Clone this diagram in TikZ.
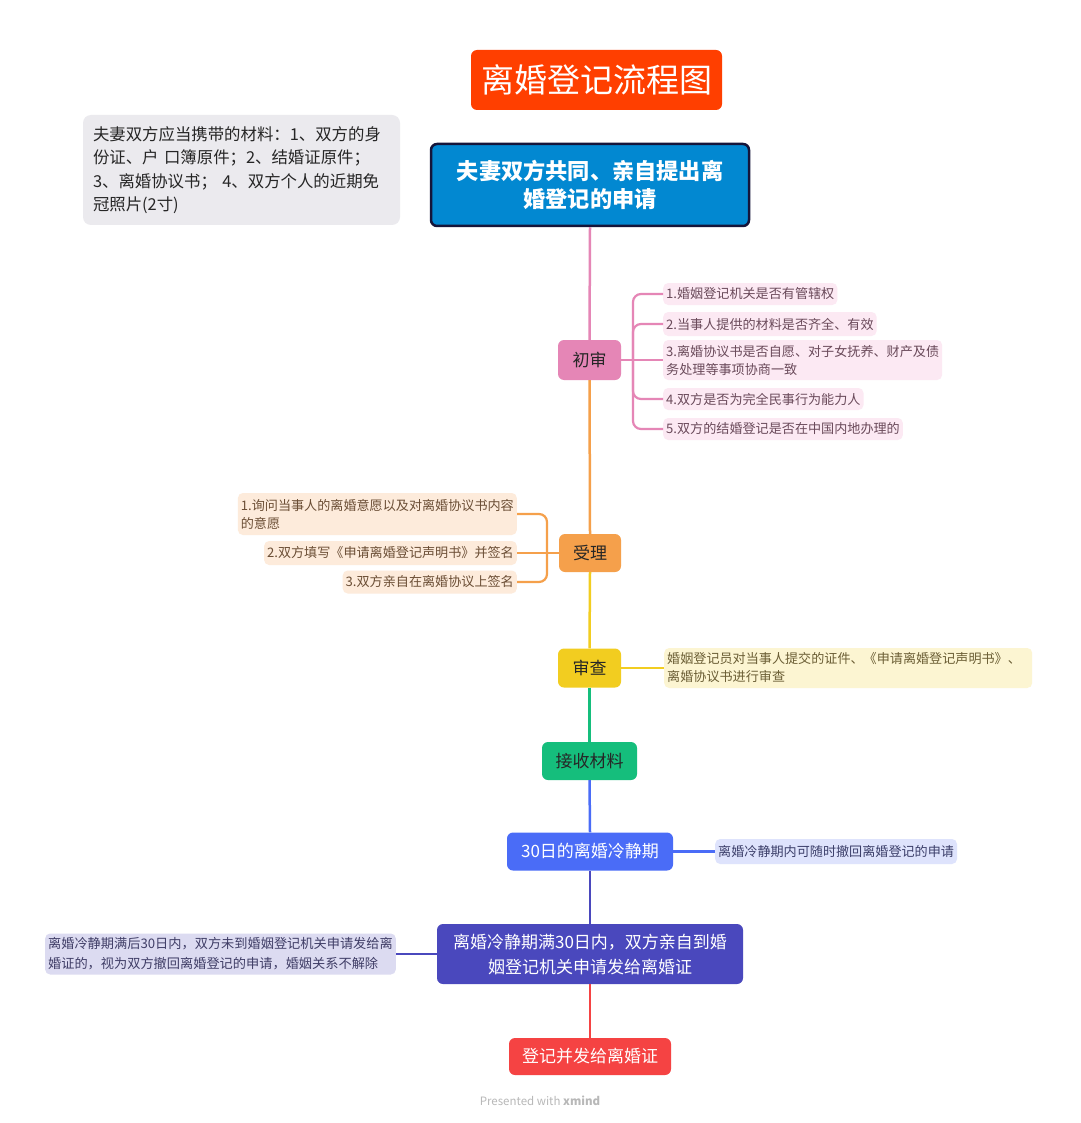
\documentclass[tikz,border=0pt]{standalone}
\usepackage{fontspec}
\setmainfont{Noto Sans CJK SC}
\definecolor{titlec}{HTML}{FF3F00}
\definecolor{rootc}{HTML}{0288D1}
\definecolor{rootb}{HTML}{15153A}
\definecolor{notec}{HTML}{EBEAEE}
\definecolor{pinkc}{HTML}{E586B6}
\definecolor{pinkl}{HTML}{FCE9F3}
\definecolor{pinkt}{HTML}{6A4A5A}
\definecolor{orc}{HTML}{F5A04B}
\definecolor{orl}{HTML}{FDEBDB}
\definecolor{ort}{HTML}{6B4E35}
\definecolor{yec}{HTML}{F2CD20}
\definecolor{yel}{HTML}{FCF5D2}
\definecolor{yet}{HTML}{6B5E35}
\definecolor{grc}{HTML}{15BE7C}
\definecolor{blc}{HTML}{4A6CF7}
\definecolor{bll}{HTML}{DEE3FC}
\definecolor{blt}{HTML}{3C3F6A}
\definecolor{inc}{HTML}{4A48BD}
\definecolor{inl}{HTML}{DCDBF1}
\definecolor{int}{HTML}{3F3D66}
\definecolor{rdc}{HTML}{F54343}
\begin{document}
\begin{tikzpicture}[x=1pt,y=-1pt,
  stepbox/.style={rounded corners=6pt, inner sep=0pt, align=center, font=\fontsize{17}{22}\selectfont},
  leaf/.style={rounded corners=5pt, inner xsep=3pt, inner ysep=0pt, align=left, font=\fontsize{13.1}{18}\selectfont},
  link/.style={line width=2.5pt},
]
\useasboundingbox (0,0) rectangle (1080,1123);
\fill[white] (0,0) rectangle (1080,1123);

% title
\node[stepbox, fill=titlec, text=white, minimum width=251pt, minimum height=60pt, font=\fontsize{33}{38}\selectfont] (title) at (596.5,80) {离婚登记流程图};

% materials note
\node[rounded corners=8pt, fill=notec, text=black!85, text width=297pt, inner xsep=10pt, inner ysep=0pt, minimum height=110pt, align=left, font=\fontsize{16.4}{23.5}\selectfont] (mat) at (241.5,170) {夫妻双方应当携带的材料：1、双方的身\\份证、户 口簿原件；2、结婚证原件；\\3、离婚协议书； 4、双方个人的近期免\\冠照片(2寸)};

% root
\node[stepbox, fill=rootc, draw=rootb, line width=2.5pt, text=white, minimum width=318pt, minimum height=82pt, font=\fontsize{22.2}{28}\selectfont\bfseries] (root) at (590,185) {夫妻双方共同、亲自提出离\\婚登记的申请};

% main steps
\node[stepbox, fill=pinkc, text=black!85, minimum width=63pt, minimum height=40pt] (cs) at (589.5,360) {初审};
\node[stepbox, fill=orc, text=black!85, minimum width=62pt, minimum height=38pt] (sl) at (590,553) {受理};
\node[stepbox, fill=yec, text=black!85, minimum width=63pt, minimum height=39pt] (sc) at (589.5,668) {审查};
\node[stepbox, fill=grc, text=black!85, minimum width=95pt, minimum height=38pt] (js) at (589.5,761) {接收材料};
\node[stepbox, fill=blc, text=white, minimum width=166pt, minimum height=38pt] (lj) at (590,851.5) {30日的离婚冷静期};
\node[stepbox, fill=inc, text=white, minimum width=306pt, minimum height=60pt, font=\fontsize{17}{25}\selectfont] (sq) at (590,954) {离婚冷静期满30日内，双方亲自到婚\\姻登记机关申请发给离婚证};
\node[stepbox, fill=rdc, text=white, minimum width=162pt, minimum height=37pt] (dj) at (590,1056.5) {登记并发给离婚证};

% trunk
\draw[link, pinkc] (root.south) -- (cs.north);
\draw[link, orc] (cs.south) -- (sl.north);
\draw[link, yec] (sl.south) -- (sc.north);
\draw[link, grc] (sc.south) -- (js.north);
\draw[link, blc] (js.south) -- (lj.north);
\draw[link, inc] (lj.south) -- (sq.north);
\draw[link, rdc] (sq.south) -- (dj.north);

% 初审 children
\node[leaf, fill=pinkl, text=pinkt, anchor=west, minimum height=22pt] (c1) at (663,294) {1.婚姻登记机关是否有管辖权};
\node[leaf, fill=pinkl, text=pinkt, anchor=west, minimum height=24pt] (c2) at (663,324) {2.当事人提供的材料是否齐全、有效};
\node[leaf, fill=pinkl, text=pinkt, anchor=west, minimum height=40pt] (c3) at (663,360) {3.离婚协议书是否自愿、对子女抚养、财产及债\\务处理等事项协商一致};
\node[leaf, fill=pinkl, text=pinkt, anchor=west, minimum height=22pt] (c4) at (663,399) {4.双方是否为完全民事行为能力人};
\node[leaf, fill=pinkl, text=pinkt, anchor=west, minimum height=22pt] (c5) at (663,429) {5.双方的结婚登记是否在中国内地办理的};
\coordinate (cj) at (633,360);
\draw[pinkc, line width=2.2pt] (cs.east) -- (cj);
\foreach \k in {c1,c2,c4,c5}{
  \draw[pinkc, line width=2.2pt, rounded corners=8pt] (cj) |- (\k.west);
}
\draw[pinkc, line width=2.2pt] (cj) -- (c3.west);

% 受理 children
\node[leaf, fill=orl, text=ort, anchor=east, minimum height=42pt] (s1) at (517,514) {1.询问当事人的离婚意愿以及对离婚协议书内容\\的意愿};
\node[leaf, fill=orl, text=ort, anchor=east, minimum height=24pt] (s2) at (517,553) {2.双方填写《申请离婚登记声明书》并签名};
\node[leaf, fill=orl, text=ort, anchor=east, minimum height=23pt] (s3) at (517,582) {3.双方亲自在离婚协议上签名};
\coordinate (sj) at (547,553);
\draw[orc, line width=2.2pt] (sl.west) -- (sj);
\draw[orc, line width=2.2pt, rounded corners=8pt] (sj) |- (s1.east);
\draw[orc, line width=2.2pt] (sj) -- (s2.east);
\draw[orc, line width=2.2pt, rounded corners=8pt] (sj) |- (s3.east);

% 审查 child
\node[leaf, fill=yel, text=yet, anchor=west, minimum height=40pt, text width=362pt] (y1) at (664,668) {婚姻登记员对当事人提交的证件、《申请离婚登记声明书》、\\离婚协议书进行审查};
\draw[yec, line width=2.2pt] (sc.east) -- (y1.west);

% 冷静期 child
\node[leaf, fill=bll, text=blt, anchor=west, minimum height=25pt, font=\fontsize{13.1}{18}\selectfont] (b1) at (715,851.5) {离婚冷静期内可随时撤回离婚登记的申请};
\draw[blc, line width=2.5pt] (lj.east) -- (b1.west);

% 期满 child
\node[leaf, fill=inl, text=int, anchor=east, minimum height=41pt, font=\fontsize{13.2}{20}\selectfont] (n1) at (396,954) {离婚冷静期满后30日内，双方未到婚姻登记机关申请发给离\\婚证的，视为双方撤回离婚登记的申请，婚姻关系不解除};
\draw[inc, line width=2.5pt] (sq.west) -- (n1.east);

% footer
\node[text=black!28, font=\fontsize{11.5}{13}\selectfont, inner sep=0pt] (foot) at (540,1101) {Presented with \textbf{xmind}};
\end{tikzpicture}
\end{document}
